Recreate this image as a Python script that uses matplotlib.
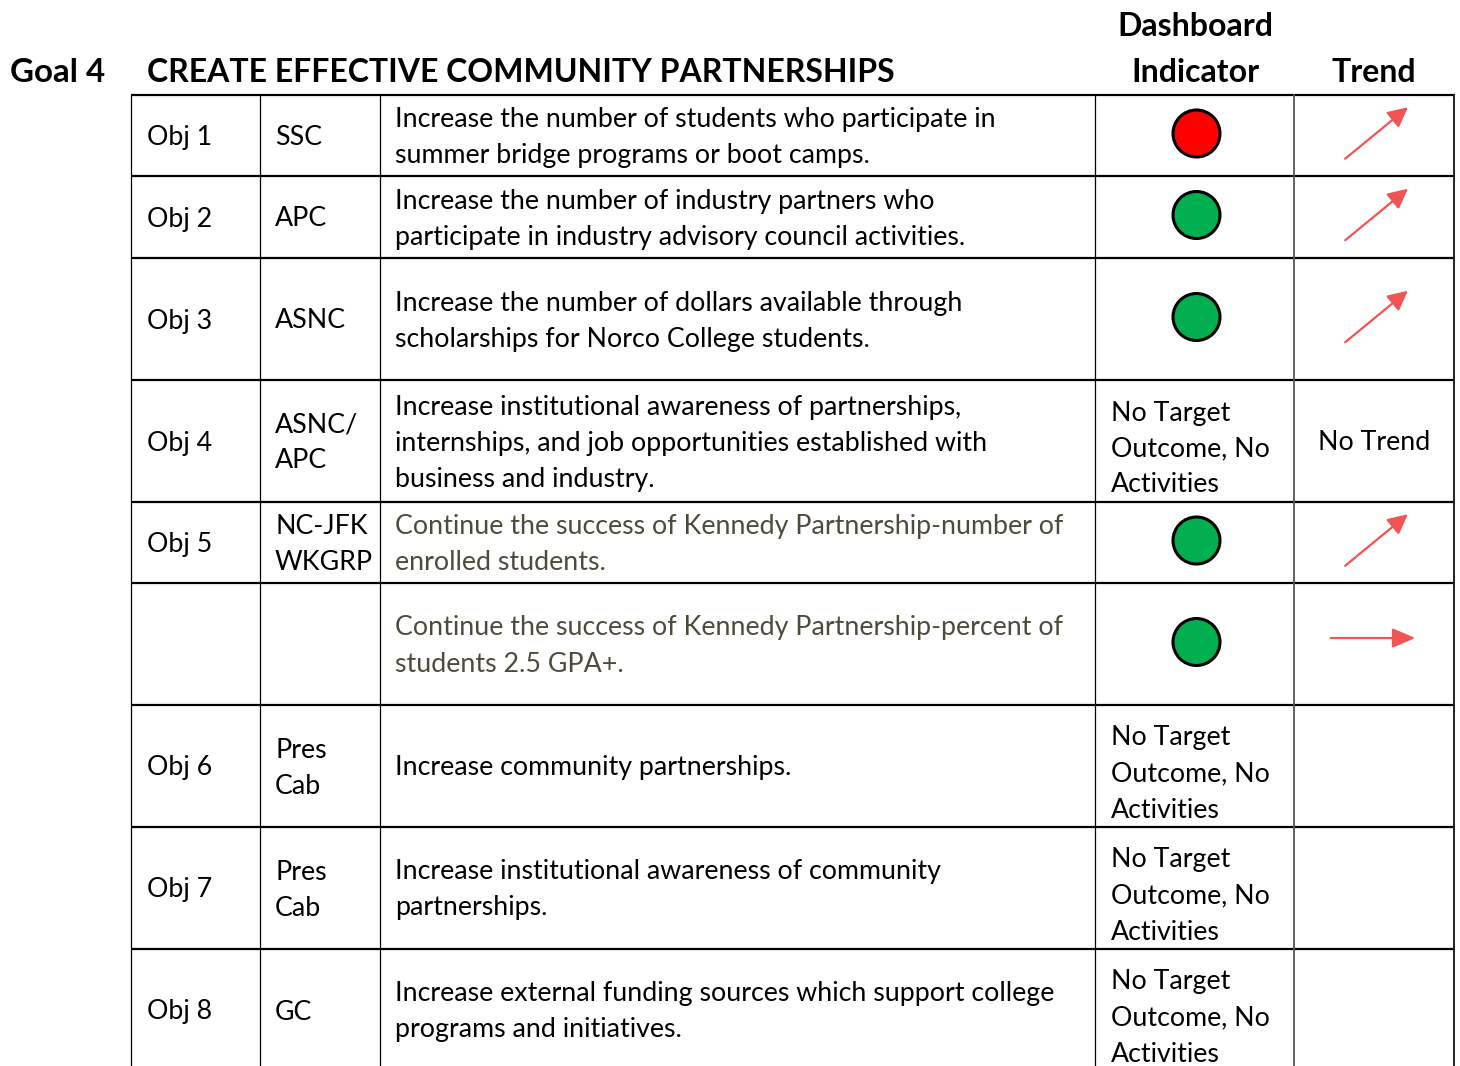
"""Goal 4 dashboard table: objectives, owners, indicator lights and trend arrows."""
import matplotlib.pyplot as plt
from matplotlib.patches import Circle, FancyArrowPatch

plt.rcParams["font.family"] = ["Lato", "DejaVu Sans"]

W, H = 1460, 1066

# ---- data -----------------------------------------------------------------
objectives = ["Obj 1", "Obj 2", "Obj 3", "Obj 4", "Obj 5", "", "Obj 6", "Obj 7", "Obj 8"]
owners = ["SSC", "APC", "ASNC", "ASNC/\nAPC", "NC-JFK\nWKGRP", "", "Pres\nCab", "Pres\nCab", "GC"]
descriptions = [
    "Increase the number of students who participate in\nsummer bridge programs or boot camps.",
    "Increase the number of industry partners who\nparticipate in industry advisory council activities.",
    "Increase the number of dollars available through\nscholarships for Norco College students.",
    "Increase institutional awareness of partnerships,\ninternships, and job opportunities established with\nbusiness and industry.",
    "Continue the success of Kennedy Partnership-number of\nenrolled students.",
    "Continue the success of Kennedy Partnership-percent of\nstudents 2.5 GPA+.",
    "Increase community partnerships.",
    "Increase institutional awareness of community\npartnerships.",
    "Increase external funding sources which support college\nprograms and initiatives.",
]
desc_muted = [False, False, False, False, True, True, False, False, False]
# indicator: "red", "green" or None (no target)
indicator = ["red", "green", "green", None, "green", "green", None, None, None]
# trend: "up", "flat", "none" (text), or "" (blank)
trend = ["up", "up", "up", "none", "up", "flat", "", "", ""]

# ---- layout ---------------------------------------------------------------
col_x = [131, 260, 380, 1095, 1294, 1454]
row_h = [81, 82, 122, 122, 81, 122, 122, 122, 122]
top = 95
LINE = 36
FS = 19.3
IND_COLOR = {"red": "#FF0000", "green": "#00B050"}
ARROW = "#F05454"
MUTED = "#4F4B3C"

fig = plt.figure(figsize=(W / 100, H / 100), dpi=100)
ax = fig.add_axes([0, 0, 1, 1])
ax.set_xlim(0, W)
ax.set_ylim(H, 0)
ax.axis("off")


def lines_at(x, yc, text, color="black", ha="left", offset=2):
    parts = text.split("\n")
    n = len(parts)
    for i, s in enumerate(parts):
        ax.text(x, yc + offset + (i - (n - 1) / 2) * LINE, s, fontsize=FS,
                color=color, ha=ha, va="center")


# header
hfs = 23.0
ax.text(10, 72, "Goal 4", fontsize=hfs + 0.8, fontweight="bold", va="center")
ax.text(147, 72, "CREATE EFFECTIVE COMMUNITY PARTNERSHIPS", fontsize=hfs,
        fontweight="bold", va="center")
ax.text(1195, 27, "Dashboard", fontsize=hfs, fontweight="bold", va="center", ha="center")
ax.text(1195, 72, "Indicator", fontsize=hfs, fontweight="bold", va="center", ha="center")
ax.text(1374, 72, "Trend", fontsize=hfs, fontweight="bold", va="center", ha="center")

# rows
y0 = top
bounds = [y0]
for h in row_h:
    y0 += h
    bounds.append(y0)

for i in range(len(row_h)):
    yt, yb = bounds[i], bounds[i + 1]
    yc = (yt + yb) / 2
    if objectives[i]:
        lines_at(147, yc, objectives[i])
    if owners[i]:
        lines_at(275, yc, owners[i])
    lines_at(395, yc, descriptions[i], color=MUTED if desc_muted[i] else "black")

    xc_ind = (col_x[3] + col_x[4]) / 2
    if indicator[i]:
        ax.add_patch(Circle((xc_ind + 2, yc - 2), 23.5, facecolor=IND_COLOR[indicator[i]],
                            edgecolor="black", lw=2.2, zorder=3))
    else:
        lines_at(1111, yc, "No Target\nOutcome, No\nActivities", offset=8)

    xc_tr = (col_x[4] + col_x[5]) / 2
    if trend[i] == "up":
        a = FancyArrowPatch((xc_tr - 31, yc + 25), (xc_tr + 36, yc - 30),
                            arrowstyle="-|>,head_length=12,head_width=6",
                            color=ARROW, lw=1.6, mutation_scale=1, zorder=3)
        ax.add_patch(a)
    elif trend[i] == "flat":
        a = FancyArrowPatch((xc_tr - 46, yc - 6), (xc_tr + 44, yc - 6),
                            arrowstyle="-|>,head_length=14,head_width=6",
                            color=ARROW, lw=1.6, mutation_scale=1, zorder=3)
        ax.add_patch(a)
    elif trend[i] == "none":
        lines_at(xc_tr, yc, "No Trend", ha="center")

# grid lines
for yb in bounds:
    ax.plot([col_x[0], col_x[-1] + 1], [yb, yb], color="black", lw=1.6,
            solid_capstyle="butt", zorder=4)
bottom = bounds[-1]
for j, x in enumerate(col_x):
    c, lw = "black", 0.9
    if j == 4:
        c, lw = "#555555", 1.3
    elif j == 5:
        c, lw = "#222222", 1.4
    ax.plot([x, x], [top, bottom], color=c, lw=lw, zorder=4)

fig.savefig("out.png", dpi=100, facecolor="white")
